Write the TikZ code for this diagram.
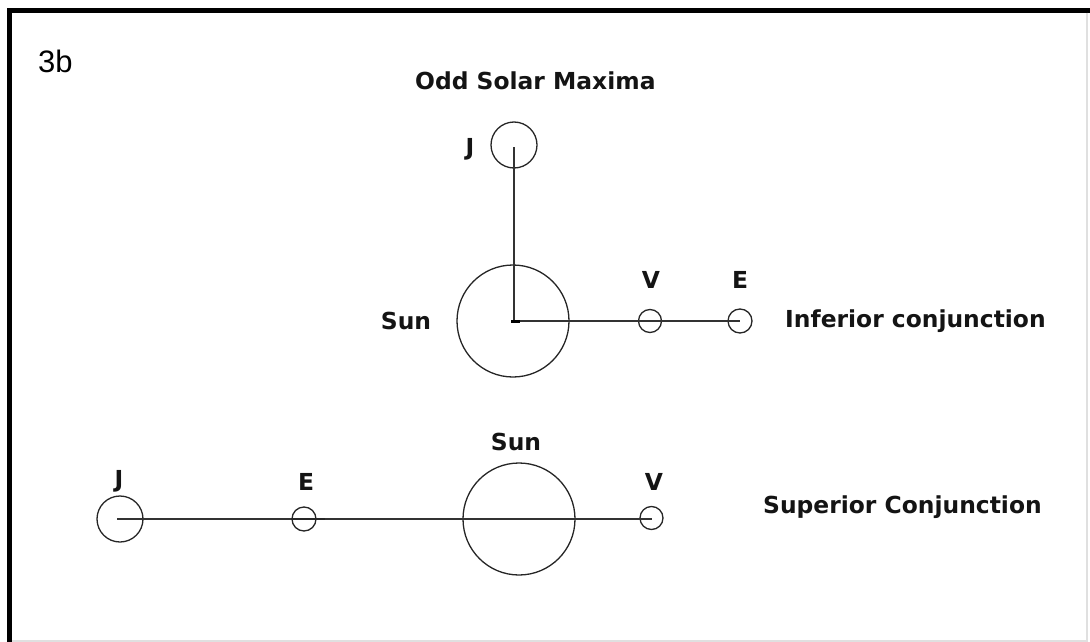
\documentclass[tikz,border=0pt]{standalone}
\usepackage{fontspec}
\setmainfont{DejaVu Sans}
\newfontfamily\arialfont{Liberation Sans}
\begin{document}
\begin{tikzpicture}[x=1pt,y=-1pt,
  body/.style={circle,draw=black!85,line width=1.3pt,inner sep=0pt,minimum size=#1},
  lbl/.style={inner sep=0pt,font=\bfseries\fontsize{23.4}{27}\selectfont,text=black!92},
  rod/.style={draw=black!80,line width=1.4pt}]
\useasboundingbox (0,0) rectangle (1090,642);
% frame
\draw[line width=4.2pt,black] (9.5,642) -- (9.5,10.5) -- (1090,10.5);
\draw[line width=1.5pt,black!12] (1087,12.6) -- (1087,641) -- (11.6,641);
% title
\node[inner sep=0pt,anchor=base west,font=\arialfont\fontsize{31}{35}\selectfont] (title) at (38,73) {3b};
\node[lbl,anchor=base west] (odd) at (415,89.5) {Odd Solar Maxima};
% upper configuration
\node[body=112pt] (sun1) at (513,321) {};
\node[body=46pt] (J1) at (514,145) {};
\node[body=23pt] (V1) at (650,321) {};
\node[body=24pt] (E1) at (740,321) {};
\coordinate (c1) at (514,321);
\coordinate (j1top) at (514,147);
\draw[rod] (c1) -- (j1top);
\draw[rod] (c1) -- (E1.center);
\draw[line width=3pt,black] (511,321) -- (520,321);
\node[lbl,anchor=base] (J1l) at (470,155) {J};
\node[lbl,anchor=base] (sun1l) at (406,329) {Sun};
\node[lbl,anchor=base] (V1l) at (651,288) {V};
\node[lbl,anchor=base] (E1l) at (740,288) {E};
\node[lbl,anchor=base west] (inf) at (785,327) {Inferior conjunction};
% lower configuration
\node[body=112pt] (sun2) at (519,519) {};
\node[body=46pt] (J2) at (120,519) {};
\node[body=24pt] (E2) at (304,519) {};
\node[body=23pt] (V2) at (651.5,518) {};
\coordinate (j2c) at (117,519);
\coordinate (v2c) at (652,519);
\draw[rod] (j2c) -- (v2c);
\draw[line width=2.6pt,black!85] (291,519) -- (325,519);
\node[lbl,anchor=base] (J2l) at (119,487) {J};
\node[lbl,anchor=base] (E2l) at (306,490) {E};
\node[lbl,anchor=base] (sun2l) at (516,450) {Sun};
\node[lbl,anchor=base] (V2l) at (654,490) {V};
\node[lbl,anchor=base west] (sup) at (763,513) {Superior Conjunction};
\end{tikzpicture}
\end{document}
